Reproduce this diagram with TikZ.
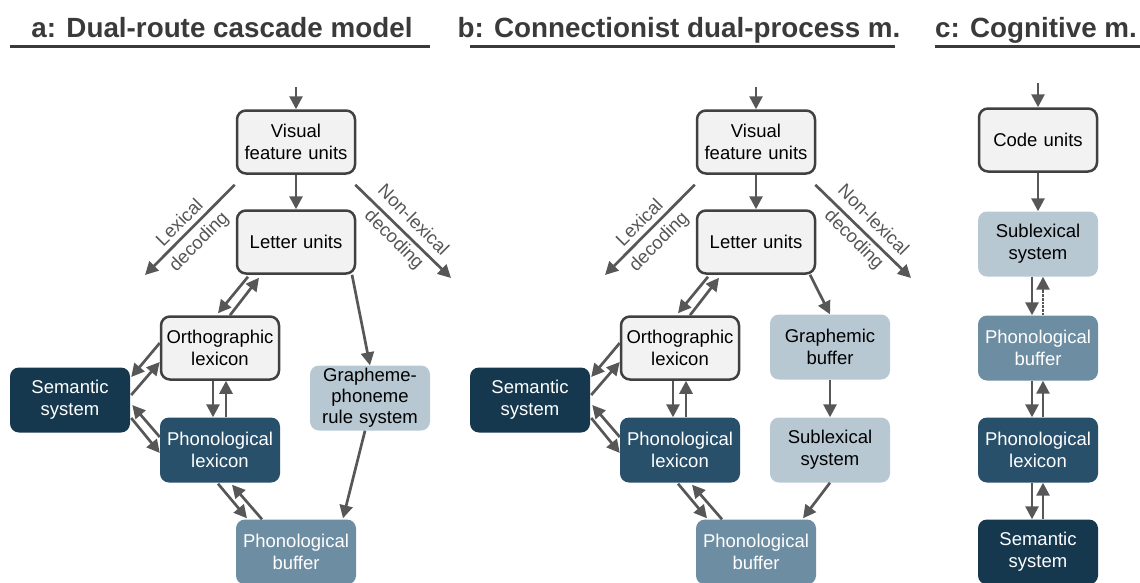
\documentclass[tikz,border=0pt]{standalone}
\usepackage{fontspec}
\setmainfont{Liberation Sans}
\usetikzlibrary{arrows.meta,calc}
\definecolor{boxgrey}{HTML}{F2F2F2}
\definecolor{edge}{HTML}{404040}
\definecolor{pale}{HTML}{B8C8D3}
\definecolor{midblue}{HTML}{6D8DA2}
\definecolor{darkblue}{HTML}{28506B}
\definecolor{deepblue}{HTML}{15384F}
\definecolor{arrowgrey}{HTML}{575757}
\definecolor{labelgrey}{HTML}{555555}
\definecolor{titlegrey}{HTML}{3A3A3A}
\begin{document}
\begin{tikzpicture}[x=1pt,y=-1pt,
  every node/.style={font=\fontsize{18.5}{22}\selectfont},
  box/.style={rounded corners=9pt, minimum width=120pt, minimum height=65pt, align=center, inner sep=0pt, text width=112pt},
  grey box/.style={box, fill=boxgrey, draw=edge, line width=2.5pt, minimum width=118pt, minimum height=63pt, text=black},
  pale box/.style={box, fill=pale, text=black},
  mid box/.style={box, fill=midblue, text=white},
  dark box/.style={box, fill=darkblue, text=white},
  deep box/.style={box, fill=deepblue, text=white},
  arr/.style={draw=arrowgrey, line width=2.7pt, -{Triangle[length=13pt,width=13pt]}},
  route/.style={font=\fontsize{18.5}{27}\selectfont, text=labelgrey, align=center, inner sep=0pt},
  title/.style={font=\bfseries\fontsize{27.8}{30}\selectfont, text=titlegrey, anchor=base, inner sep=0pt},
  rule/.style={draw=titlegrey, line width=3pt}
]
\useasboundingbox (0,0) rectangle (1140,582);
\clip (0,0) rectangle (1140,582);

% titles
\node[title] (ta) at (222,37) {a: Dual-route cascade model};
\node[title] (tb) at (679,37) {b: Connectionist dual-process m.};
\node[title] (tc) at (1036,37) {c: Cognitive m.};
\draw[rule] (10,46) -- (430,46);
\draw[rule] (470,46) -- (895,46);
\draw[rule] (935,46) -- (1140,46);

% shared part of panels a and b
\foreach \p/\dx in {a/0,b/460}{
  \node[grey box] (vis\p) at ({296+\dx},142) {Visual\\feature units};
  \node[grey box] (let\p) at ({296+\dx},242) {Letter units};
  \node[grey box] (ort\p) at ({220+\dx},348) {Orthographic\\lexicon};
  \node[deep box] (sem\p) at ({70+\dx},400) {Semantic\\system};
  \node[dark box] (phl\p) at ({220+\dx},450) {Phonological\\lexicon};
  \node[mid box] (buf\p) at ({296+\dx},552) {Phonological\\buffer};
  \coordinate (in\p) at ({296+\dx},87);
  \coordinate (ls\p) at ($(vis\p.south west)+(-1,10)$);
  \coordinate (lx\p) at ({145+\dx},275);
  \coordinate (ns\p) at ($(vis\p.south east)+(-1,10)$);
  \coordinate (nx\p) at ({451+\dx},278);
  \draw[arr] (in\p) -- (vis\p);
  \draw[arr] (vis\p) -- (let\p);
  \draw[arr] (ls\p) -- (lx\p);
  \draw[arr] (ns\p) -- (nx\p);
  \node[route, rotate=45] at ($(ls\p)!0.5!(lx\p)+(0,3)$) {Lexical\\decoding};
  \node[route, rotate=-45] at ($(ns\p)!0.5!(nx\p)+(0,-1)$) {Non-lexical\\decoding};
  % letter <-> ortho
  \draw[arr] ($(let\p.south)+(-48,2)$) -- ($(ort\p.north)+(-2,-2)$);
  \draw[arr] ($(ort\p.north)+(10,0)$) -- ($(let\p.south)+(-37,3)$);
  % ortho <-> semantic
  \draw[arr] ($(ort\p.west)+(0,-5)$) -- ($(sem\p.east)+(1,-23)$);
  \draw[arr] ($(sem\p.east)+(1,-5)$) -- ($(ort\p.west)+(0,14)$);
  % ortho <-> phon lexicon
  \draw[arr] ($(ort\p.south)+(-7,0)$) -- ($(phl\p.north)+(-7,0)$);
  \draw[arr] ($(phl\p.north)+(6,0)$) -- ($(ort\p.south)+(6,0)$);
  % phon lexicon <-> semantic
  \draw[arr] ($(phl\p.west)+(0,-13)$) -- ($(sem\p.east)+(2,5)$);
  \draw[arr] ($(sem\p.east)+(1,18)$) -- ($(phl\p.west)+(0,3)$);
  % phon lexicon <-> buffer
  \draw[arr] ($(phl\p.south)+(-2,1)$) -- ($(buf\p.north)+(-49,-1)$);
  \draw[arr] ($(buf\p.north)+(-34,0)$) -- ($(phl\p.south)+(12,2)$);
}

% panel a specific
\node[pale box, font=\fontsize{18.5}{21}\selectfont] (gpa) at (370,398) {Grapheme-\\phoneme\\rule system};
\draw[arr] ($(leta.south)+(56,0)$) -- (gpa.north);
\draw[arr] ($(gpa.south)+(-5,0)$) -- ($(bufa.north)+(47,-1)$);

% panel b specific
\node[pale box] (gbb) at (830,347) {Graphemic\\buffer};
\node[pale box] (subb) at (830,450) {Sublexical\\system};
\draw[arr] ($(letb.south)+(54,0)$) -- (gbb.north);
\draw[arr] (gbb) -- (subb);
\draw[arr] (subb.south) -- ($(bufb.north)+(47,-1)$);

% panel c
\node[grey box] (codec) at (1038,140) {Code units};
\node[pale box] (subc) at (1038,244) {Sublexical\\system};
\node[mid box] (pbufc) at (1038,348) {Phonological\\buffer};
\node[dark box] (plexc) at (1038,450) {Phonological\\lexicon};
\node[deep box] (semc) at (1038,552) {Semantic\\system};
\coordinate (inc) at (1038,83);
\draw[arr] (inc) -- (codec);
\draw[arr] (codec) -- (subc);
\draw[arr] ($(subc.south)+(-6,0)$) -- ($(pbufc.north)+(-6,0)$);
\draw[arr, densely dotted] ($(pbufc.north)+(5,0)$) -- ($(subc.south)+(5,0)$);
\draw[arr] ($(pbufc.south)+(-6,0)$) -- ($(plexc.north)+(-6,0)$);
\draw[arr] ($(plexc.north)+(5,0)$) -- ($(pbufc.south)+(5,0)$);
\draw[arr] ($(plexc.south)+(-6,0)$) -- ($(semc.north)+(-6,0)$);
\draw[arr] ($(semc.north)+(5,0)$) -- ($(plexc.south)+(5,0)$);
\end{tikzpicture}
\end{document}
